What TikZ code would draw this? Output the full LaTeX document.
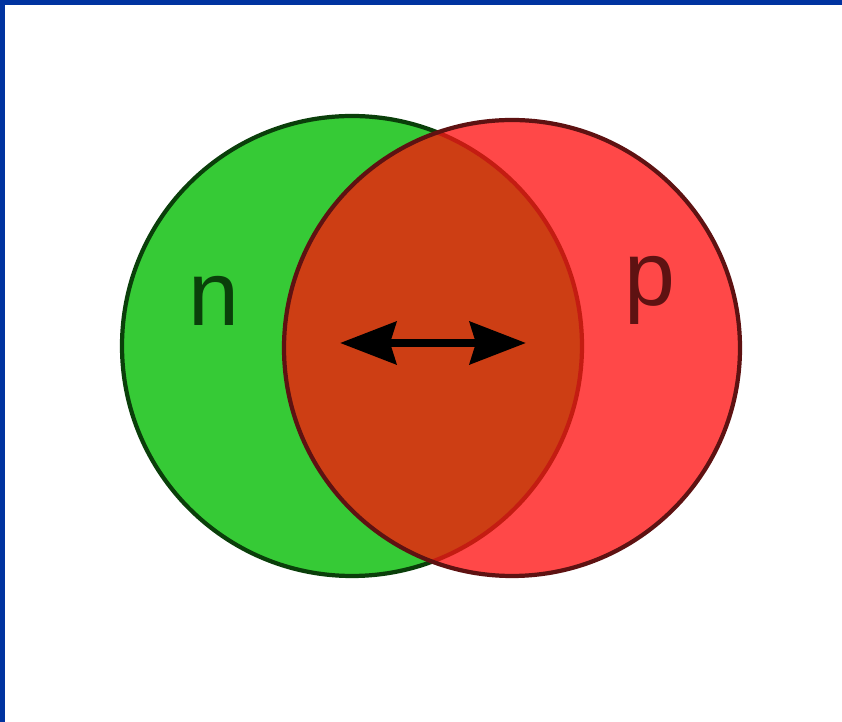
\documentclass[tikz,border=0pt]{standalone}
\usepackage{fontspec}
\setsansfont{Liberation Sans}
\usetikzlibrary{arrows.meta}
\definecolor{npborder}{HTML}{0033A0}
\definecolor{npgreen}{HTML}{36CA36}
\definecolor{npgreendark}{HTML}{0A3F0A}
\definecolor{npred}{HTML}{FF4848}
\definecolor{npreddark}{HTML}{5E1212}
\definecolor{npoverlap}{HTML}{CD3E14}
\definecolor{nparc}{HTML}{C41C12}
\begin{document}
\begin{tikzpicture}[x=0.01cm, y=-0.01cm,
  npcircle/.style = {line width=1.2pt},
  nparrow/.style = {line width=2.4pt, black,
    {Stealth[length=5.6mm, width=4.2mm, inset=0.6mm]}-{Stealth[length=5.6mm, width=4.2mm, inset=0.6mm]}},
  nplbl/.style = {font=\sffamily\fontsize{26}{30}\selectfont, anchor=base, inner sep=0pt}
]
  \useasboundingbox (0,0) rectangle (842,722);
  % frame on the top and left edge
  \fill[npborder] (0,0) rectangle (842,5);
  \fill[npborder] (0,0) rectangle (5,722);
  % neutron and proton
  \fill[npgreen] (352,346) circle (230);
  \fill[npred] (512,348) circle (228);
  \begin{scope}
    \clip (352,346) circle (230);
    \fill[npoverlap] (512,348) circle (228);
  \end{scope}
  % green outline: dark outside the proton, red inside it
  \begin{scope}[even odd rule]
    \clip (0,0) rectangle (842,722) (512,348) circle (228);
    \draw[npcircle, npgreendark] (352,346) circle (230);
  \end{scope}
  \begin{scope}
    \clip (512,348) circle (228);
    \draw[npcircle, nparc] (352,346) circle (230);
  \end{scope}
  \draw[npcircle, npreddark] (512,348) circle (228);
  % labels
  \node[nplbl, text=npgreendark] (nlbl) at (214,326) {n};
  \node[nplbl, text=npreddark] (plbl) at (650,306) {p};
  % exchange arrow
  \coordinate (arrL) at (340,343);
  \coordinate (arrR) at (526,343);
  \draw[nparrow] (arrL) -- (arrR);
\end{tikzpicture}
\end{document}
